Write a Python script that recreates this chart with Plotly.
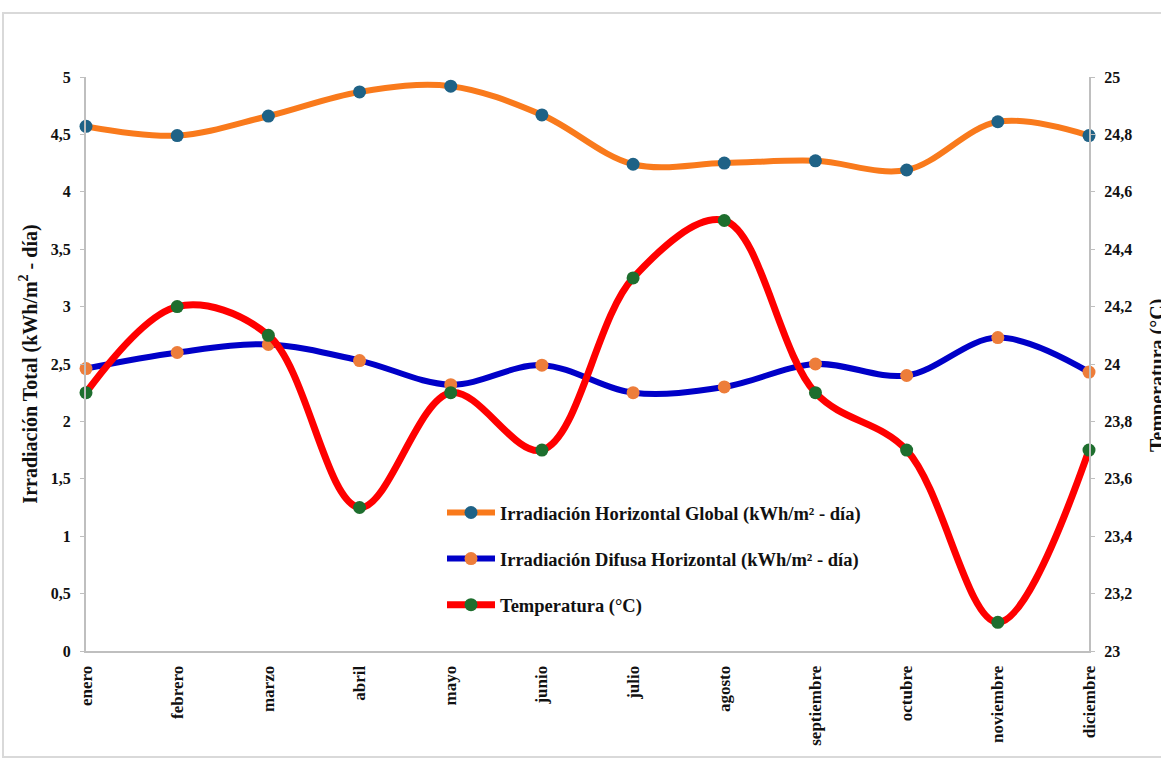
import plotly.graph_objects as go

# Monthly climate data
meses = ["enero", "febrero", "marzo", "abril", "mayo", "junio",
         "julio", "agosto", "septiembre", "octubre", "noviembre", "diciembre"]
irr_global = [4.57, 4.49, 4.66, 4.87, 4.92, 4.67, 4.24, 4.25, 4.27, 4.19, 4.61, 4.49]
irr_difusa = [2.46, 2.60, 2.67, 2.53, 2.32, 2.49, 2.25, 2.30, 2.50, 2.40, 2.73, 2.43]
temperatura = [23.9, 24.2, 24.1, 23.5, 23.9, 23.7, 24.3, 24.5, 23.9, 23.7, 23.1, 23.7]

W, H = 1161, 758
ML, MR, MT, MB = 86, 72, 77, 107
PW, PH = W - ML - MR, H - MT - MB

def px_x(px):
    return (px - ML) / PW

def px_y(px):
    return (H - MB - px) / PH

FONT = "Liberation Serif, Times New Roman, serif"
xs = list(range(len(meses)))

fig = go.Figure()
fig.add_trace(go.Scatter(
    x=xs, y=irr_global, name="Irradiación Horizontal Global (kWh/m² - día)",
    mode="lines+markers", line=dict(color="#F97A1C", width=6, shape="spline", smoothing=1),
    marker=dict(color="#1F6286", size=13), cliponaxis=False, legendgroup="g1",
))
fig.add_trace(go.Scatter(
    x=xs, y=irr_difusa, name="Irradiación Difusa Horizontal (kWh/m² - día)",
    mode="lines+markers", line=dict(color="#0000C8", width=6, shape="spline", smoothing=1),
    marker=dict(color="#ED7D3A", size=13), cliponaxis=False, legendgroup="g2",
))
fig.add_trace(go.Scatter(
    x=xs, y=temperatura, name="Temperatura (°C)", yaxis="y2",
    mode="lines+markers", line=dict(color="#FF0000", width=7, shape="spline", smoothing=1),
    marker=dict(color="#1E6E2E", size=13), cliponaxis=False, legendgroup="g3",
))

axis_common = dict(
    showgrid=False, zeroline=False, showline=True, linecolor="#BFBFBF", linewidth=2,
    ticks="outside", ticklen=4, tickcolor="#BFBFBF",
    tickfont=dict(family=FONT, size=16, color="#111111", weight=700),
)

fig.update_layout(
    width=W, height=H,
    margin=dict(l=ML, r=MR, t=MT, b=MB, autoexpand=False),
    paper_bgcolor="white", plot_bgcolor="white",
    separators=",.",
    showlegend=True,
    legend=dict(
        x=px_x(442), y=px_y(494), xanchor="left", yanchor="top",
        traceorder="grouped", tracegroupgap=19, itemwidth=48,
        font=dict(family=FONT, size=18.5, color="#111111", weight=700),
        bgcolor="rgba(0,0,0,0)",
    ),
    xaxis=dict(
        axis_common, range=[0, len(meses) - 1], tickmode="array", tickvals=xs,
        ticktext=meses, tickangle=-90, ticks="", ticklabelstandoff=6,
        tickfont=dict(family=FONT, size=17, color="#111111", weight=700),
    ),
    yaxis=dict(
        axis_common, range=[0, 5], dtick=0.5, ticklabelstandoff=6,
        title=dict(text="Irradiación Total (kWh/m<sup>2</sup> - día)", standoff=8,
                   font=dict(family=FONT, size=20, color="#111111", weight=700)),
    ),
    yaxis2=dict(
        axis_common, range=[23, 25], dtick=0.2, overlaying="y", side="right",
        ticklabelstandoff=6,
    ),
    annotations=[dict(
        text="Temperatura (°C)", xref="paper", yref="paper",
        x=px_x(1157), y=px_y(376), xanchor="center", yanchor="middle",
        textangle=-90, showarrow=False,
        font=dict(family=FONT, size=20, color="#111111", weight=700),
    )],
    shapes=[dict(
        type="rect", xref="paper", yref="paper", layer="below",
        x0=px_x(3), x1=px_x(1175), y0=px_y(757), y1=px_y(13),
        line=dict(color="#D9D9D9", width=2), fillcolor="rgba(0,0,0,0)",
    )],
)

fig.write_html("out.html")
